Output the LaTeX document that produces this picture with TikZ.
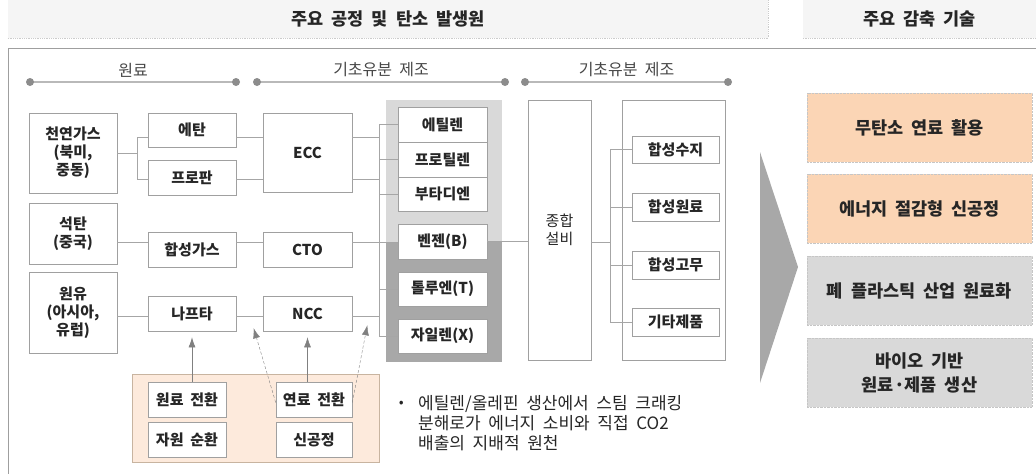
\documentclass[tikz,border=0pt]{standalone}
\usepackage{fontspec}
\setmainfont{Noto Sans CJK KR}[WordSpace=2]
\usetikzlibrary{arrows.meta}
\definecolor{boxgray}{HTML}{A0A0A0}
\definecolor{linegray}{HTML}{A6A6A6}
\definecolor{txt}{HTML}{262626}
\definecolor{headfill}{HTML}{F5F5F5}
\definecolor{dotgray}{HTML}{8C8C8C}
\definecolor{peach}{HTML}{FBD5B5}
\definecolor{peachlt}{HTML}{FDEADC}
\definecolor{peachline}{HTML}{C8B4A0}
\definecolor{panelA}{HTML}{D9D9D9}
\definecolor{panelB}{HTML}{A8A8A8}

\begin{document}
\begin{tikzpicture}[x=1pt, y=-1pt,
    bx/.style={draw=boxgray, fill=white, line width=0.6pt, text=txt, inner sep=0pt, align=center,
      font=\fontsize{15}{18}\selectfont\bfseries},
    wh/.style 2 args={minimum width=#1, minimum height=#2},
    ln/.style={draw=linegray, line width=0.6pt},
    up/.style={ln, draw=gray, -{Latex[length=10pt,width=7pt]}},
    upd/.style={up, densely dashed, line width=0.4pt},
    hd/.style={fill=headfill, inner sep=0pt, text=txt, font=\fontsize{17.5}{20}\selectfont\bfseries},
    headline/.style={draw=gray!40, densely dotted, line width=0.8pt},
    sec/.style={inner sep=0pt, text=txt!85, font=\fontsize{16}{18}\selectfont},
    tech/.style={wh={225}{69}, inner sep=0pt, draw=gray!45, densely dotted, align=center, text=txt,
      font=\fontsize{17.5}{24}\selectfont\bfseries}]
    \useasboundingbox (0,0) rectangle (1036,474);

    \node[hd, wh={760}{38}] (hdA) at (388,19) {주요 공정 및 탄소 발생원};
    \node[hd, wh={233}{38}] (hdB) at (919.5,19) {주요 감축 기술};
    \draw[headline] (hdA.south west) -- (hdA.south east) -- (hdA.north east);
    \draw[headline] (hdB.south west) -- (hdB.south east);
    \draw[gray!75, line width=1pt] (1036,48) -- (8,48) -- (8,474);

    \foreach \a/\b/\t in {30/236/원료, 257/505/기초유분 제조, 525/728/기초유분 제조} {
      \draw[gray!55, line width=1.2pt] (\a,82) -- (\b,82);
      \fill[dotgray] (\a,82) circle (4) (\b,82) circle (4);
      \node[sec] (s\a) at ({(\a+\b)/2},70) {\t};
    }

    \node[bx, wh={88}{80}] (gas) at (73,153) {천연가스\\(북미,\\중동)};
    \node[bx, wh={88}{61}] (coal) at (73,233.5) {석탄\\(중국)};
    \node[bx, wh={88}{81}] (oil) at (73,312.5) {원유\\(아시아,\\유럽)};
    \node[bx, wh={88}{34}] (etan) at (192,130) {에탄};
    \node[bx, wh={88}{35}] (prop) at (192,177.5) {프로판};
    \node[bx, wh={88}{35}] (syng) at (192,249.5) {합성가스};
    \node[bx, wh={88}{35}] (naph) at (192,313.5) {나프타};
    \node[bx, wh={89}{79}] (ecc) at (307.5,152.5) {ECC};
    \node[bx, wh={89}{35}] (cto) at (307.5,249.5) {CTO};
    \node[bx, wh={89}{35}] (ncc) at (307.5,313.5) {NCC};

    \fill[panelA] (386,100) rectangle (502,242);
    \fill[panelB] (386,242) rectangle (502,362);
    \node[bx, wh={89}{35}] (ethy) at (442.5,124.5) {에틸렌};
    \node[bx, wh={89}{35}] (prpy) at (442.5,159.5) {프로틸렌};
    \node[bx, wh={89}{34}] (buta) at (442.5,194) {부타디엔};
    \node[bx, wh={89}{35}] (benz) at (442.5,241.5) {벤젠(B)};
    \node[bx, wh={89}{34}] (tolu) at (442.5,289) {톨루엔(T)};
    \node[bx, wh={89}{34}] (xyle) at (442.5,336) {자일렌(X)};

    \node[bx, wh={63}{260}, font=\fontsize{15}{18}\selectfont] (plant) at (559.5,230) {종합\\설비};
    \node[bx, wh={103}{260}] (prod) at (673.5,230) {};
    \node[bx, wh={87}{27}] (resin) at (675.5,149.5) {합성수지};
    \node[bx, wh={87}{28}] (mono) at (675.5,207) {합성원료};
    \node[bx, wh={87}{28}] (rubr) at (675.5,265) {합성고무};
    \node[bx, wh={87}{28}] (misc) at (675.5,322) {기타제품};

    \node[draw=peachline, fill=peachlt, wh={247}{88}, inner sep=0pt] (lever) at (255.5,418) {};
    \node[bx, wh={78}{35}] (feed) at (187,399.5) {원료 전환};
    \node[bx, wh={78}{35}] (recy) at (187,439.5) {자원 순환};
    \node[bx, wh={76}{35}] (fuel) at (314,399.5) {연료 전환};
    \node[bx, wh={76}{35}] (newp) at (314,439.5) {신공정};

    \coordinate (ya) at (0,137);
    \coordinate (yb) at (0,179);
    \coordinate (yc) at (0,242);
    \coordinate (yd) at (0,316);
    \coordinate (fork) at (137,0);
    \coordinate (bus) at (379,0);
    \coordinate (bus2) at (610,0);

    \draw[ln] (gas.east) -- (gas.east -| fork);
    \draw[ln] (etan.west |- ya) -- (fork |- ya) -- (fork |- yb) -- (prop.west |- yb);
    \draw[ln] (etan.east |- ya) -- (ecc.west |- ya) (prop.east |- yb) -- (ecc.west |- yb);
    \draw[ln] (ecc.east |- ya) -- (bus |- ya) (ecc.east |- yb) -- (bus |- yb);
    \draw[ln] (coal.east |- yc) -- (syng.west |- yc) (syng.east |- yc) -- (cto.west |- yc)
      (cto.east |- yc) -- (benz.west |- yc);
    \draw[ln] (oil.east |- yd) -- (naph.west |- yd) (naph.east |- yd) -- (ncc.west |- yd)
      (ncc.east |- yd) -- (bus |- yd);
    \draw[ln] (bus |- ethy) -- (bus |- xyle);
    \foreach \p in {ethy,prpy,buta,tolu,xyle} \draw[ln] (bus |- \p) -- (\p.west);
    \draw[ln] (benz.east) -- (plant.west |- benz);
    \draw[ln] (plant.east |- yc) -- (bus2 |- yc);
    \draw[ln] (bus2 |- resin) -- (bus2 |- misc);
    \foreach \p in {resin,mono,rubr,misc} \draw[ln] (bus2 |- \p) -- (\p.west);

    \draw[up] (feed.north -| naph) -- ([yshift=-6pt]naph.south);
    \draw[up] (fuel.north -| ncc) -- ([yshift=-6pt]ncc.south);
    \draw[upd] ([yshift=-3pt]fuel.west) -- ([shift={(-9pt,3pt)}]ncc.south west);
    \draw[upd] ([yshift=-3pt]fuel.east) -- ([shift={(15pt,6pt)}]ncc.south east);

    \node[anchor=west, inner sep=0pt, align=left, text=txt, font=\fontsize{17}{20}\selectfont] (note) at (396,423)
      {\makebox[22pt][l]{\textbf{·}}에틸렌/올레핀 생산에서 스팀 크래킹\\\hspace*{22pt}분해로가 에너지 소비와 직접 CO2\\\hspace*{22pt}배출의 지배적 원천};

    \fill[panelB] (760,152) -- (798,267) -- (760,383) -- cycle;
    \node[tech, fill=peach] (techA) at (919.5,127.5) {무탄소 연료 활용};
    \node[tech, fill=peach] (techB) at (919.5,208.5) {에너지 절감형 신공정};
    \node[tech, fill=panelA] (techC) at (919.5,290.5) {폐 플라스틱 산업 원료화};
    \node[tech, fill=panelA] (techD) at (919.5,372.5) {바이오 기반\\원료·제품 생산};
\end{tikzpicture}
\end{document}
